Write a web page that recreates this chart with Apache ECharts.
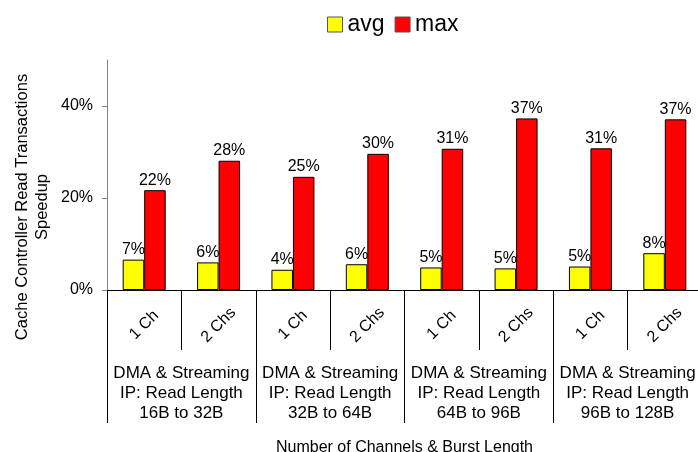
<!DOCTYPE html>
<html>
<head>
<meta charset="utf-8">
<script src="https://cdn.jsdelivr.net/npm/echarts@6/dist/echarts.min.js"></script>
<style>html,body{margin:0;padding:0;background:#fff;}#c{width:698px;height:452px;}</style>
</head>
<body>
<div id="c"></div>
<script>
var categories = ['1 Ch', '2 Chs', '1 Ch', '2 Chs', '1 Ch', '2 Chs', '1 Ch', '2 Chs'];
var groups = [
  'DMA & Streaming\nIP: Read Length\n16B to 32B',
  'DMA & Streaming\nIP: Read Length\n32B to 64B',
  'DMA & Streaming\nIP: Read Length\n64B to 96B',
  'DMA & Streaming\nIP: Read Length\n96B to 128B'
];
var avgValues = [6.6, 6.0, 4.4, 5.6, 4.9, 4.7, 5.1, 8.0];
var maxValues = [21.7, 28.1, 24.6, 29.6, 30.7, 37.3, 30.8, 37.1];
var yTicks = [0, 20, 40];
var yName = 'Cache Controller Read Transactions\nSpeedup';
var xName = 'Number of Channels & Burst Length';

var FONT = 'Arial, "Liberation Sans", sans-serif';
var chart = echarts.init(document.getElementById('c'), null, {renderer: 'canvas'});
var labelFmt = function (p) { return Math.round(p.value) + '%'; };
chart.setOption({
  animation: false,
  textStyle: {fontFamily: FONT, color: '#000'},
  legend: {
    top: 13, left: 327, padding: 0,
    itemWidth: 15, itemHeight: 15, itemGap: 10,
    icon: 'rect',
    textStyle: {fontSize: 23, fontFamily: FONT, color: '#000'},
    itemStyle: {borderColor: '#555', borderWidth: 1},
    data: ['avg', 'max']
  },
  grid: {left: 107, top: 60, width: 595, height: 230, containLabel: false, outerBoundsMode: 'none'},
  xAxis: [{
    type: 'category', data: categories, position: 'bottom',
    axisLine: {lineStyle: {color: '#000', width: 1}},
    axisTick: {show: true, interval: 0, length: 60, alignWithLabel: false, lineStyle: {color: '#000'}},
    axisLabel: {interval: 0, rotate: 45, align: 'center', verticalAlign: 'middle', margin: 35,
      fontSize: 16, fontFamily: FONT, color: '#000'}
  }, {
    type: 'category', data: groups, position: 'bottom',
    axisLine: {show: false},
    axisTick: {show: true, interval: 0, length: 133, alignWithLabel: false, lineStyle: {color: '#000'}},
    axisLabel: {interval: 0, margin: 73, lineHeight: 20, fontSize: 17, fontFamily: FONT, color: '#000', align: 'center'},
    name: xName, nameLocation: 'middle', nameGap: 150,
    nameTextStyle: {fontSize: 16, fontFamily: FONT, color: '#000', verticalAlign: 'top'}
  }],
  yAxis: {
    type: 'value', min: 0, max: 50, interval: 10,
    axisLine: {show: true, lineStyle: {color: '#808080'}},
    axisTick: {show: true, length: 5, lineStyle: {color: '#808080'},
      customValues: yTicks},
    axisLabel: {fontSize: 16, fontFamily: FONT, color: '#000', margin: 14,
      customValues: yTicks,
      formatter: function (v) { return v + '%'; }},
    splitLine: {show: false}
  },
  series: [{
    name: 'avg', type: 'bar', data: avgValues, barWidth: 21.5, barGap: '0%',
    itemStyle: {color: '#FFFF00', borderColor: '#000', borderWidth: 1},
    label: {show: true, position: 'top', distance: 2, fontSize: 16, fontFamily: FONT, color: '#000', formatter: labelFmt}
  }, {
    name: 'max', type: 'bar', data: maxValues, barWidth: 21.5, barGap: '0%',
    itemStyle: {color: '#FF0000', borderColor: '#000', borderWidth: 1},
    label: {show: true, position: 'top', distance: 2, fontSize: 16, fontFamily: FONT, color: '#000', formatter: labelFmt}
  }],
  graphic: [{
    type: 'text', x: 32, y: 207, rotation: Math.PI / 2,
    style: {text: yName, fontSize: 16.5, fontFamily: FONT, fill: '#000',
      align: 'center', verticalAlign: 'middle', lineHeight: 20}
  }]
});
</script>
</body>
</html>
